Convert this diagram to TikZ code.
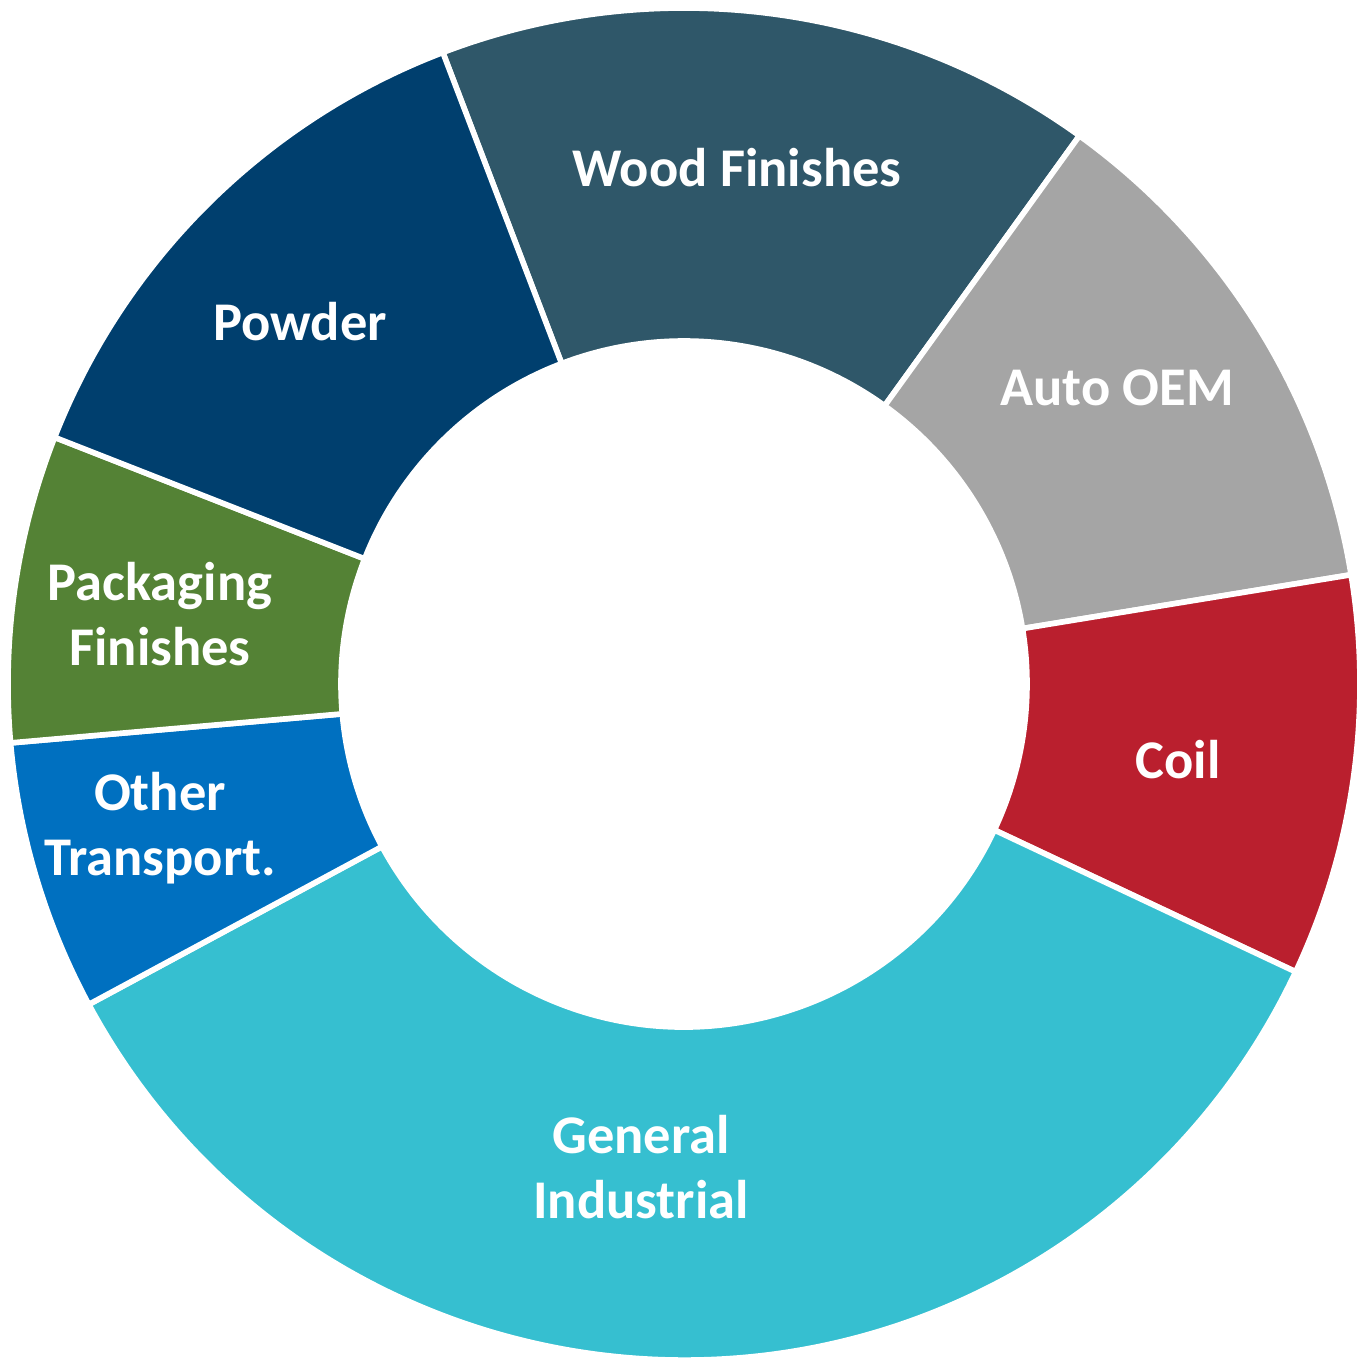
\documentclass[tikz,border=0pt]{standalone}
\usepackage{fontspec}
\setmainfont{Carlito}
\begin{document}
\begin{tikzpicture}[x=0.01cm,y=0.01cm,
  slice/.style={draw=white,line width=1.6pt,line join=round},
  lbl/.style={text=white,font=\bfseries\fontsize{15.5}{18.5}\selectfont,align=center}]
\def\ro{676}
\def\ri{343}
\useasboundingbox (-684,-684) rectangle (684,684);
\definecolor{woodc}{HTML}{2F5769}
\definecolor{powderc}{HTML}{003F6E}
\definecolor{autoc}{HTML}{A5A5A5}
\definecolor{coilc}{HTML}{BA1F2E}
\definecolor{genc}{HTML}{36BFD0}
\definecolor{otherc}{HTML}{0070C0}
\definecolor{packc}{HTML}{548235}

% ring segments: start angle / end angle / colour
\foreach \a/\b/\c in {54.2/110.9/woodc, 9.3/54.2/autoc, -25.2/9.3/coilc,
  -151.7/-25.2/genc, -175/-151.7/otherc, 158.6/185/packc, 110.9/158.6/powderc}
  \fill[\c,slice] (\a:\ro) arc[start angle=\a,end angle=\b,radius=\ro]
    -- (\b:\ri) arc[start angle=\b,end angle=\a,radius=\ri] -- cycle;

% labels
\node[lbl] (wood) at (53,516) {Wood Finishes};
\node[lbl] (powder) at (-384,362) {Powder};
\node[lbl] (auto) at (433,296) {Auto OEM};
\node[lbl] (coil) at (494,-76) {Coil};
\node[lbl] (gen) at (-43,-483) {General\\Industrial};
\node[lbl] (other) at (-524,-144) {Other\\Transport.};
\node[lbl] (pack) at (-524,70) {Packaging\\Finishes};
\end{tikzpicture}
\end{document}
